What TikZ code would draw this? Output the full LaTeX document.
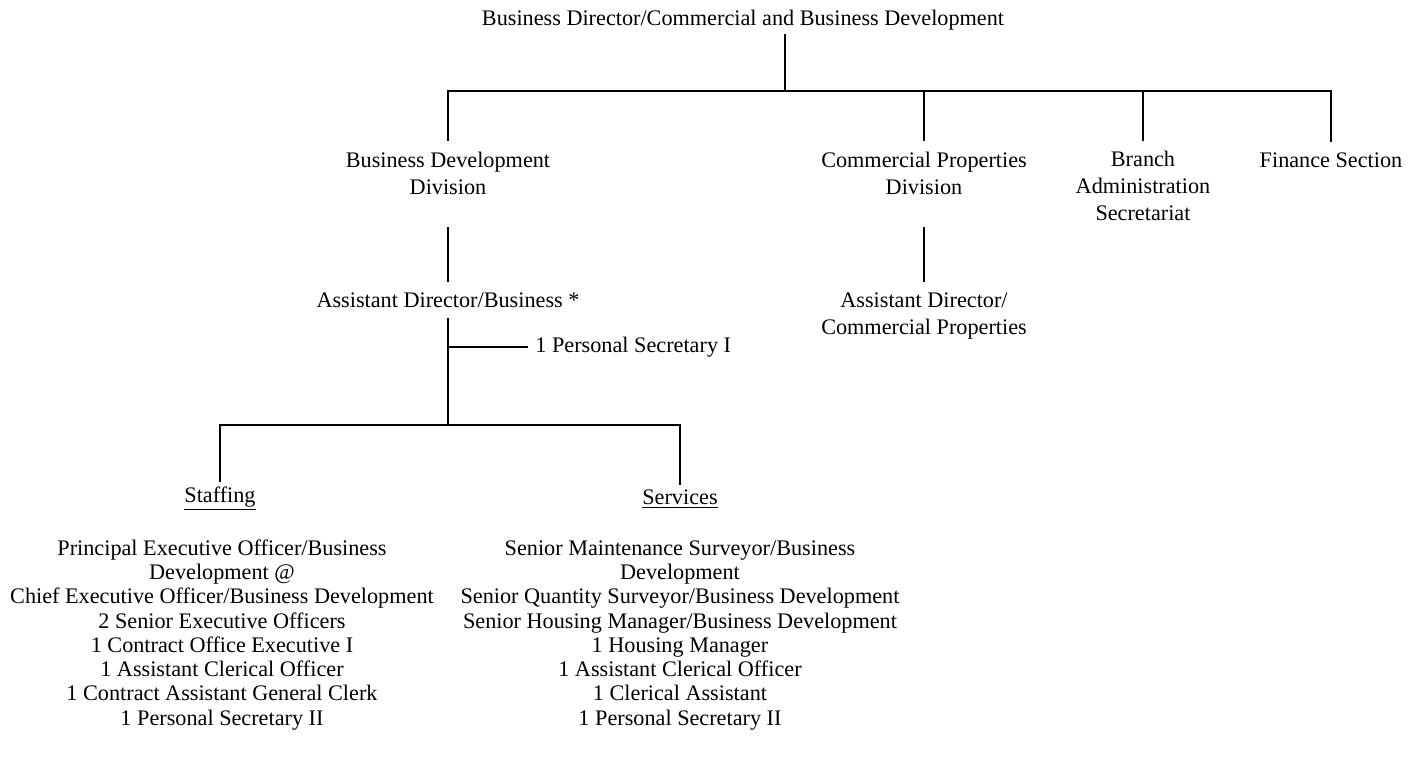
\documentclass[tikz,border=0pt]{standalone}
\usepackage{fontspec}
\setmainfont{Liberation Serif}
\usetikzlibrary{positioning, calc}
\tikzset{
    unitstyle/.style={align=center, inner xsep=2pt, inner ysep=5pt, font=\fontsize{10}{12}\selectfont},
    headstyle/.style={inner xsep=2pt, inner ysep=2pt, font=\fontsize{10}{12}\selectfont},
    liststyle/.style={align=center, inner sep=2pt, font=\fontsize{10}{10.9}\selectfont},
    lnk/.style={line width=0.8pt, color=black}
}
\begin{document}
\begin{tikzpicture}[x=0.45pt, y=-0.45pt,
        tree/.style={lnk, line cap=rect}
    ]
    \useasboundingbox (0,0) rectangle (1421,762);
    \node[headstyle, anchor=base] (bdir) at (743,25) {Business Director/Commercial and Business Development};
    \node[unitstyle, anchor=base] (bdd) at (448,194) {Business Development\\Division};
    \node[unitstyle, anchor=base] (cpd) at (924,194) {Commercial Properties\\Division};
    \node[unitstyle, anchor=base] (bas) at (1143,220) {Branch\\Administration\\Secretariat};
    \node[unitstyle, anchor=base] (fin) at (1331,167) {Finance Section};
    \node[unitstyle, anchor=base] (adb) at (448,307) {Assistant Director/Business *};
    \node[unitstyle, anchor=base] (adc) at (924,334) {Assistant Director/\\Commercial Properties};
    \node[headstyle, anchor=west, inner xsep=3.6pt] (ps1) at (527,347) {1 Personal Secretary I};
    \node[headstyle, anchor=base] (staff) at (220,502) {\underline{Staffing}};
    \node[headstyle, anchor=base] (serv) at (680,504) {\underline{Services}};
    \node[liststyle, anchor=base] (stafflist) at (222,725) {Principal Executive Officer/Business\\Development @\\Chief Executive Officer/Business Development\\2 Senior Executive Officers\\1 Contract Office Executive I\\1 Assistant Clerical Officer\\1 Contract Assistant General Clerk\\1 Personal Secretary II};
    \node[liststyle, anchor=base] (servlist) at (680,725) {Senior Maintenance Surveyor/Business\\Development\\Senior Quantity Surveyor/Business Development\\Senior Housing Manager/Business Development\\1 Housing Manager\\1 Assistant Clerical Officer\\1 Clerical Assistant\\1 Personal Secretary II};

    \coordinate (j0) at (785,91);
    \coordinate (k0) at (448,425);
    \coordinate (k1) at (448,347);
    \draw[tree] (bdir.south -| j0) -- (j0);
    \draw[tree] (bdd.north) |- (j0) -| (fin.north);
    \draw[tree] (j0) -| (cpd.north);
    \draw[tree] (j0) -| (bas.north);
    \draw[tree, shorten <=10pt] (bdd.south) -- (adb.north);
    \draw[tree, shorten <=10pt] (cpd.south) -- (adc.north);
    \draw[tree] (adb.south) -- (k0);
    \draw[tree] (k1) -- (ps1);
    \draw[tree] (staff.north) |- (k0) -| (serv.north);
\end{tikzpicture}
\end{document}
